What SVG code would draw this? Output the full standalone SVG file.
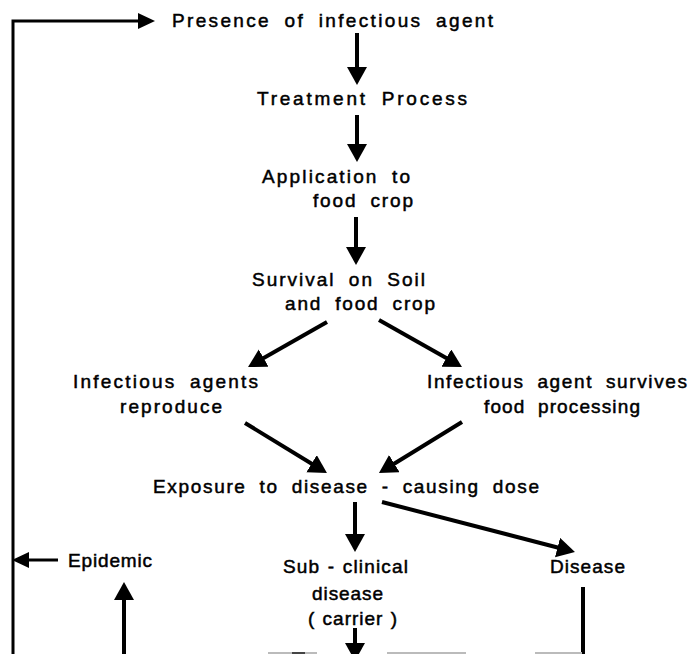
<svg xmlns="http://www.w3.org/2000/svg" width="689" height="654" viewBox="0 0 689 654">
<style>
text{font-family:"Liberation Sans",Arial,sans-serif;font-size:19px;word-spacing:6px;fill:#000;stroke:#000;stroke-width:0.5px}
.n{word-spacing:1px}
.c{fill:none;stroke:#000;stroke-width:4}
.t{fill:none;stroke:#000;stroke-width:3}
.g{stroke:#bbb;stroke-width:2}
</style>
<defs>
<marker id="ah" markerUnits="userSpaceOnUse" markerWidth="19" markerHeight="21" refX="4" refY="10" orient="auto" viewBox="0 0 19 21">
<path d="M0,0 L18,10 L0,20 z" fill="#000"/>
</marker>
<marker id="as" markerUnits="userSpaceOnUse" markerWidth="18" markerHeight="17" refX="3" refY="8" orient="auto" viewBox="0 0 18 17">
<path d="M0,0 L17,8 L0,16 z" fill="#000"/>
</marker>
</defs>
<rect width="689" height="654" fill="#fff"/>
<g id="connectors">
<path class="t" d="M13,654 V21 H141" marker-end="url(#as)"/>
<line class="c" x1="357" y1="33" x2="357" y2="71" marker-end="url(#ah)"/>
<line class="c" x1="357" y1="115" x2="357" y2="148" marker-end="url(#ah)"/>
<line class="c" x1="356" y1="217" x2="356" y2="251" marker-end="url(#ah)"/>
<line class="c" x1="327" y1="322" x2="260.2" y2="360.1" marker-end="url(#ah)"/>
<line class="c" x1="379" y1="320" x2="449.8" y2="360.1" marker-end="url(#ah)"/>
<line class="c" x1="245" y1="423" x2="315" y2="465.7" marker-end="url(#ah)"/>
<line class="c" x1="462" y1="422" x2="390.9" y2="465.7" marker-end="url(#ah)"/>
<line class="c" x1="355" y1="502" x2="355" y2="538" marker-end="url(#ah)"/>
<line class="c" x1="382" y1="502" x2="561.4" y2="548.5" marker-end="url(#ah)"/>
<line class="t" x1="58" y1="560" x2="26" y2="560" marker-end="url(#as)"/>
<line class="c" x1="124" y1="654" x2="124" y2="596" marker-end="url(#ah)"/>
<line class="c" x1="355" y1="628" x2="355" y2="647" marker-end="url(#ah)"/>
<line class="c" x1="583" y1="587" x2="583" y2="654"/>
<line class="g" x1="268" y1="653" x2="317" y2="653"/>
<line stroke="#444" stroke-width="2" x1="292" y1="653" x2="305" y2="653"/>
<line class="g" x1="387" y1="653" x2="466" y2="653"/>
<line class="g" x1="535" y1="653" x2="582" y2="653"/>
</g>
<g id="n-presence"><text x="172" y="27" textLength="321" lengthAdjust="spacing">Presence of infectious agent</text></g>
<g id="n-treatment"><text x="257" y="105" textLength="210" lengthAdjust="spacing">Treatment Process</text></g>
<g id="n-application"><text x="262" y="183" textLength="148" lengthAdjust="spacing">Application to</text><text x="313" y="207" textLength="100" lengthAdjust="spacing">food crop</text></g>
<g id="n-survival"><text x="252" y="286" textLength="173" lengthAdjust="spacing">Survival on Soil</text><text x="285" y="310" textLength="150" lengthAdjust="spacing">and food crop</text></g>
<g id="n-reproduce"><text x="73" y="388" textLength="185" lengthAdjust="spacing">Infectious agents</text><text x="120" y="413" textLength="102" lengthAdjust="spacing">reproduce</text></g>
<g id="n-survives"><text x="427" y="388" textLength="260" lengthAdjust="spacing">Infectious agent survives</text><text x="484" y="413" textLength="156" lengthAdjust="spacing">food processing</text></g>
<g id="n-exposure"><text x="153" y="493" textLength="386" lengthAdjust="spacing">Exposure to disease - causing dose</text></g>
<g id="n-epidemic"><text x="68" y="567" textLength="84" lengthAdjust="spacing">Epidemic</text></g>
<g id="n-subclinical"><text class="n" x="283" y="573" textLength="125" lengthAdjust="spacing">Sub - clinical</text><text x="312" y="600" textLength="71" lengthAdjust="spacing">disease</text><text class="n" x="308" y="625" textLength="89" lengthAdjust="spacing">( carrier )</text></g>
<g id="n-disease"><text x="550" y="573" textLength="75" lengthAdjust="spacing">Disease</text></g>
</svg>
